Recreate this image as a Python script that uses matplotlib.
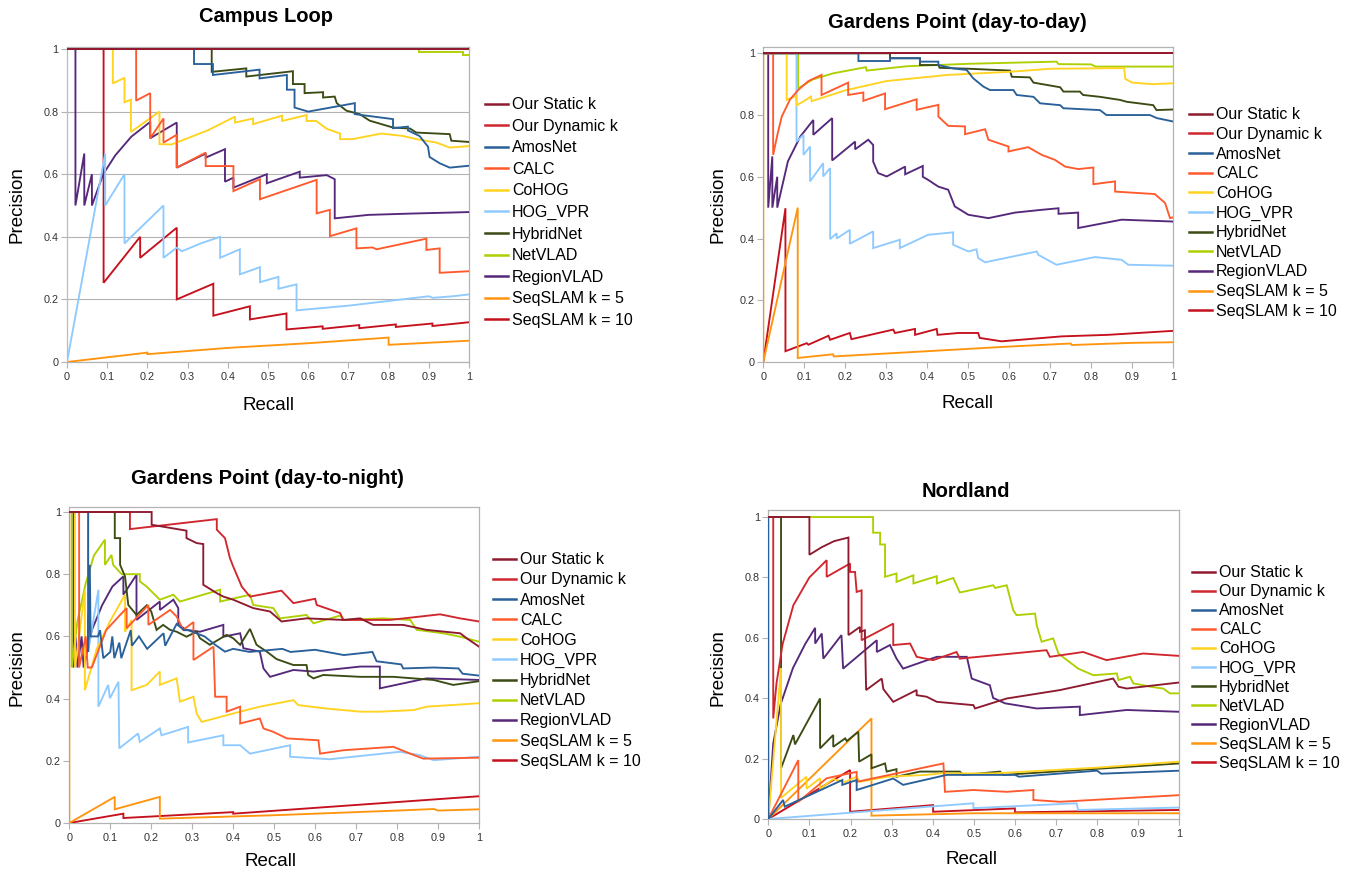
import matplotlib
matplotlib.use("Agg")
import matplotlib.pyplot as plt
from matplotlib.lines import Line2D

plt.rcParams['font.family'] = ['Liberation Sans', 'DejaVu Sans']

# ---------------- data: (recall, precision) vertices ----------------
SERIES = ["Our Static k", "Our Dynamic k", "AmosNet", "CALC", "CoHOG", "HOG_VPR",
          "HybridNet", "NetVLAD", "RegionVLAD", "SeqSLAM k = 5", "SeqSLAM k = 10"]
COLORS = ["#8e1a30", "#d0262e", "#2a6099", "#ff5a2e", "#ffd320", "#8fcaff",
          "#3b4b14", "#aecf00", "#55287a", "#ff950e", "#c5101d"]

TITLES = ["Campus Loop", "Gardens Point (day-to-day)",
          "Gardens Point (day-to-night)", "Nordland"]
X_TICKS = [0, 0.1, 0.2, 0.3, 0.4, 0.5, 0.6, 0.7, 0.8, 0.9, 1]
X_TICK_LABELS = ["0", "0.1", "0.2", "0.3", "0.4", "0.5", "0.6", "0.7", "0.8", "0.9", "1"]
Y_TICKS = [0, 0.2, 0.4, 0.6, 0.8, 1]
Y_TICK_LABELS = ["0", "0.2", "0.4", "0.6", "0.8", "1"]

# --- Campus Loop ---
CL_STATIC = [(0, 1), (1, 1)]
CL_DYNAMIC = [(0, 1), (1, 1)]
CL_AMOSNET = [(0, 1), (0.316, 1), (0.316, 0.952), (0.363, 0.952), (0.363, 0.917), (0.479, 0.934),
              (0.479, 0.906), (0.547, 0.917), (0.547, 0.87), (0.566, 0.87), (0.566, 0.813), (0.6, 0.8),
              (0.716, 0.827), (0.716, 0.792), (0.733, 0.789), (0.811, 0.776), (0.811, 0.747),
              (0.848, 0.752), (0.848, 0.74), (0.877, 0.722), (0.898, 0.688), (0.902, 0.655),
              (0.927, 0.635), (0.952, 0.621), (1, 0.627)]
CL_CALC = [(0, 1), (0.172, 1), (0.172, 0.835), (0.207, 0.859), (0.207, 0.715), (0.24, 0.778),
           (0.24, 0.701), (0.273, 0.726), (0.273, 0.621), (0.345, 0.669), (0.345, 0.626),
           (0.414, 0.626), (0.414, 0.546), (0.48, 0.584), (0.48, 0.52), (0.621, 0.582),
           (0.621, 0.475), (0.654, 0.486), (0.654, 0.402), (0.72, 0.427), (0.72, 0.363),
           (0.76, 0.366), (0.77, 0.36), (0.894, 0.394), (0.894, 0.358), (0.927, 0.363),
           (0.927, 0.285), (1, 0.29)]
CL_COHOG = [(0, 1), (0.114, 1), (0.114, 0.89), (0.143, 0.908), (0.143, 0.83), (0.159, 0.838),
            (0.159, 0.735), (0.23, 0.8), (0.23, 0.696), (0.26, 0.695), (0.35, 0.74), (0.418, 0.784),
            (0.418, 0.765), (0.463, 0.778), (0.463, 0.76), (0.535, 0.787), (0.535, 0.77),
            (0.596, 0.789), (0.596, 0.77), (0.62, 0.77), (0.646, 0.745), (0.679, 0.73),
            (0.679, 0.712), (0.71, 0.712), (0.782, 0.73), (0.836, 0.722), (0.869, 0.712),
            (0.919, 0.701), (0.952, 0.685), (1, 0.69)]
CL_HOG = [(0, 1), (0, 0), (0.095, 0.666), (0.095, 0.5), (0.143, 0.6), (0.143, 0.379), (0.24, 0.5),
          (0.24, 0.333), (0.273, 0.365), (0.286, 0.354), (0.335, 0.38), (0.381, 0.4), (0.381, 0.333),
          (0.43, 0.36), (0.43, 0.28), (0.48, 0.303), (0.48, 0.255), (0.526, 0.272), (0.526, 0.234),
          (0.571, 0.248), (0.571, 0.165), (0.7, 0.18), (0.8, 0.195), (0.9, 0.21), (0.91, 0.205),
          (0.96, 0.21), (1, 0.216)]
CL_HYBRID = [(0, 1), (0.36, 1), (0.36, 0.927), (0.446, 0.938), (0.446, 0.912), (0.562, 0.929),
             (0.562, 0.888), (0.591, 0.888), (0.591, 0.859), (0.637, 0.862), (0.637, 0.845),
             (0.666, 0.848), (0.671, 0.827), (0.695, 0.803), (0.728, 0.792), (0.753, 0.771),
             (0.811, 0.749), (0.853, 0.746), (0.869, 0.733), (0.952, 0.728), (0.956, 0.707),
             (1, 0.703)]
CL_NETVLAD = [(0, 1), (0.875, 1), (0.875, 0.989), (0.986, 0.989), (0.986, 0.981), (1, 0.981)]
CL_REGION = [(0, 1), (0.021, 1), (0.021, 0.5), (0.043, 0.666), (0.043, 0.5), (0.062, 0.6),
             (0.062, 0.5), (0.09, 0.6), (0.12, 0.66), (0.16, 0.72), (0.207, 0.767), (0.207, 0.715),
             (0.273, 0.765), (0.273, 0.621), (0.345, 0.666), (0.345, 0.653), (0.393, 0.68),
             (0.393, 0.576), (0.414, 0.589), (0.414, 0.557), (0.497, 0.6), (0.497, 0.571),
             (0.579, 0.608), (0.579, 0.589), (0.646, 0.597), (0.666, 0.584), (0.666, 0.459),
             (0.75, 0.47), (0.85, 0.474), (1, 0.479)]
CL_SEQ5 = [(0, 0), (0.2, 0.03), (0.2, 0.025), (0.4, 0.045), (0.6, 0.06), (0.8, 0.078),
           (0.8, 0.055), (1, 0.068)]
CL_SEQ10 = [(0, 1), (0.091, 1), (0.091, 0.253), (0.182, 0.4), (0.182, 0.333), (0.273, 0.429),
            (0.273, 0.2), (0.364, 0.25), (0.364, 0.148), (0.455, 0.178), (0.455, 0.136),
            (0.546, 0.155), (0.546, 0.104), (0.636, 0.114), (0.636, 0.106), (0.727, 0.118),
            (0.727, 0.108), (0.818, 0.12), (0.818, 0.112), (0.909, 0.123), (0.909, 0.115),
            (1, 0.127)]

# --- Gardens Point (day-to-day) ---
GD_STATIC = [(0, 1), (1, 1)]
GD_DYNAMIC = [(0, 1), (1, 1)]
GD_AMOSNET = [(0, 1), (0.232, 1), (0.232, 0.975), (0.309, 0.975), (0.309, 0.984), (0.382, 0.984),
              (0.382, 0.973), (0.427, 0.973), (0.427, 0.962), (0.463, 0.951), (0.496, 0.946),
              (0.512, 0.919), (0.537, 0.892), (0.553, 0.881), (0.61, 0.881), (0.618, 0.865),
              (0.659, 0.859), (0.675, 0.838), (0.724, 0.832), (0.732, 0.822), (0.821, 0.816),
              (0.837, 0.8), (0.943, 0.8), (0.96, 0.79), (1, 0.779)]
GD_CALC = [(0, 1), (0.024, 1), (0.024, 0.671), (0.035, 0.74), (0.045, 0.795), (0.065, 0.85),
           (0.085, 0.881), (0.11, 0.91), (0.142, 0.93), (0.142, 0.865), (0.207, 0.905),
           (0.207, 0.865), (0.244, 0.873), (0.244, 0.846), (0.297, 0.87), (0.297, 0.819),
           (0.374, 0.851), (0.374, 0.817), (0.427, 0.833), (0.427, 0.795), (0.451, 0.765),
           (0.492, 0.763), (0.492, 0.738), (0.541, 0.754), (0.549, 0.72), (0.598, 0.698),
           (0.598, 0.682), (0.646, 0.696), (0.679, 0.671), (0.711, 0.655), (0.736, 0.633),
           (0.768, 0.625), (0.805, 0.63), (0.805, 0.576), (0.858, 0.585), (0.858, 0.552),
           (0.955, 0.544), (0.98, 0.515), (0.992, 0.466), (1, 0.469)]
GD_COHOG = [(0, 1), (0.057, 1), (0.057, 0.849), (0.08, 0.862), (0.082, 0.832), (0.105, 0.85),
            (0.116, 0.86), (0.118, 0.845), (0.2, 0.88), (0.3, 0.91), (0.45, 0.93), (0.6, 0.94),
            (0.7, 0.95), (0.88, 0.952), (0.883, 0.917), (0.9, 0.905), (0.95, 0.9), (1, 0.903)]
GD_HOG = [(0, 1), (0.081, 1), (0.081, 0.714), (0.098, 0.736), (0.098, 0.671), (0.114, 0.698),
          (0.114, 0.585), (0.146, 0.644), (0.146, 0.601), (0.163, 0.628), (0.163, 0.398),
          (0.179, 0.417), (0.179, 0.4), (0.211, 0.428), (0.211, 0.383), (0.268, 0.423),
          (0.268, 0.369), (0.333, 0.396), (0.333, 0.369), (0.402, 0.412), (0.463, 0.42),
          (0.463, 0.38), (0.5, 0.358), (0.52, 0.365), (0.524, 0.337), (0.541, 0.323),
          (0.667, 0.358), (0.671, 0.347), (0.715, 0.315), (0.809, 0.34), (0.874, 0.331),
          (0.89, 0.315), (1, 0.312)]
GD_HYBRID = [(0, 1), (0.309, 1), (0.309, 0.984), (0.382, 0.984), (0.382, 0.962), (0.427, 0.962),
             (0.43, 0.953), (0.5, 0.95), (0.602, 0.944), (0.606, 0.924), (0.65, 0.922),
             (0.659, 0.905), (0.724, 0.89), (0.732, 0.876), (0.772, 0.876), (0.78, 0.865),
             (0.821, 0.859), (0.87, 0.849), (0.886, 0.843), (0.951, 0.832), (0.959, 0.816),
             (1, 0.818)]
GD_NETVLAD = [(0, 1), (0.085, 1), (0.085, 0.886), (0.12, 0.915), (0.17, 0.935), (0.25, 0.955),
              (0.252, 0.944), (0.35, 0.958), (0.5, 0.966), (0.715, 0.973), (0.72, 0.965),
              (0.8, 0.964), (0.81, 0.957), (1, 0.957)]
GD_REGION = [(0, 1), (0.012, 1), (0.012, 0.5), (0.022, 0.666), (0.022, 0.5), (0.034, 0.6),
             (0.034, 0.5), (0.06, 0.65), (0.09, 0.73), (0.122, 0.784), (0.122, 0.736),
             (0.168, 0.79), (0.168, 0.653), (0.224, 0.714), (0.224, 0.689), (0.256, 0.72),
             (0.268, 0.703), (0.268, 0.649), (0.28, 0.612), (0.301, 0.601), (0.346, 0.633),
             (0.346, 0.608), (0.389, 0.635), (0.389, 0.6), (0.402, 0.59), (0.427, 0.568),
             (0.451, 0.558), (0.467, 0.504), (0.5, 0.477), (0.549, 0.466), (0.614, 0.484),
             (0.679, 0.493), (0.72, 0.498), (0.72, 0.48), (0.768, 0.484), (0.768, 0.434),
             (0.874, 0.461), (1, 0.455)]
GD_SEQ5 = [(0, 1), (0, 0), (0.084, 0.5), (0.084, 0.013), (0.17, 0.025), (0.172, 0.018),
           (0.4, 0.035), (0.6, 0.05), (0.75, 0.06), (0.752, 0.055), (0.9, 0.062), (1, 0.064)]
GD_SEQ10 = [(0, 0), (0.054, 0.498), (0.054, 0.035), (0.106, 0.061), (0.11, 0.056), (0.159, 0.085),
            (0.163, 0.072), (0.211, 0.094), (0.215, 0.074), (0.317, 0.105), (0.321, 0.094),
            (0.37, 0.107), (0.37, 0.088), (0.423, 0.107), (0.425, 0.088), (0.476, 0.094),
            (0.524, 0.094), (0.528, 0.078), (0.581, 0.067), (0.728, 0.083), (0.841, 0.088),
            (1, 0.101)]

# --- Gardens Point (day-to-night) ---
GN_STATIC = [(0, 1), (0.201, 1), (0.201, 0.959), (0.286, 0.94), (0.286, 0.916), (0.311, 0.9),
             (0.327, 0.897), (0.327, 0.766), (0.36, 0.739), (0.376, 0.728), (0.4, 0.718),
             (0.449, 0.691), (0.49, 0.68), (0.518, 0.648), (0.579, 0.658), (0.669, 0.653),
             (0.71, 0.658), (0.742, 0.637), (0.815, 0.637), (0.872, 0.621), (0.954, 0.61),
             (0.97, 0.594), (1, 0.567)]
GN_DYNAMIC = [(0, 1), (0.148, 1), (0.148, 0.945), (0.36, 0.977), (0.36, 0.943), (0.38, 0.916),
              (0.392, 0.852), (0.4, 0.825), (0.421, 0.76), (0.441, 0.728), (0.518, 0.747),
              (0.547, 0.707), (0.6, 0.721), (0.604, 0.701), (0.661, 0.675), (0.669, 0.653),
              (0.783, 0.653), (0.905, 0.671), (0.954, 0.658), (1, 0.648)]
GN_AMOSNET = [(0, 1), (0.046, 1), (0.046, 0.55), (0.05, 0.83), (0.052, 0.6), (0.07, 0.6),
              (0.075, 0.62), (0.083, 0.53), (0.1, 0.55), (0.105, 0.6), (0.11, 0.53), (0.122, 0.58),
              (0.127, 0.53), (0.15, 0.62), (0.153, 0.57), (0.17, 0.6), (0.19, 0.56), (0.23, 0.61),
              (0.234, 0.57), (0.262, 0.64), (0.28, 0.62), (0.29, 0.62), (0.33, 0.6),
              (0.356, 0.573), (0.38, 0.551), (0.4, 0.56), (0.44, 0.55), (0.52, 0.56),
              (0.54, 0.55), (0.6, 0.557), (0.67, 0.54), (0.74, 0.55), (0.75, 0.52), (0.81, 0.51),
              (0.815, 0.497), (0.89, 0.5), (0.95, 0.497), (0.96, 0.48), (1, 0.474)]
GN_CALC = [(0, 1), (0.024, 1), (0.024, 0.5), (0.04, 0.6), (0.045, 0.5), (0.055, 0.5),
           (0.09, 0.62), (0.124, 0.669), (0.14, 0.691), (0.14, 0.626), (0.193, 0.701),
           (0.193, 0.637), (0.246, 0.685), (0.262, 0.664), (0.278, 0.621), (0.303, 0.646),
           (0.303, 0.524), (0.352, 0.567), (0.356, 0.406), (0.384, 0.406), (0.384, 0.358),
           (0.417, 0.374), (0.417, 0.32), (0.465, 0.336), (0.474, 0.304), (0.498, 0.293),
           (0.531, 0.272), (0.608, 0.266), (0.612, 0.223), (0.669, 0.234), (0.791, 0.245),
           (0.832, 0.223), (0.864, 0.207), (1, 0.21)]
GN_COHOG = [(0, 1), (0.014, 1), (0.014, 0.5), (0.038, 0.747), (0.038, 0.427), (0.067, 0.56),
            (0.1, 0.65), (0.136, 0.734), (0.136, 0.615), (0.152, 0.653), (0.152, 0.427),
            (0.189, 0.444), (0.221, 0.487), (0.221, 0.444), (0.262, 0.465), (0.27, 0.39),
            (0.303, 0.406), (0.311, 0.352), (0.323, 0.325), (0.417, 0.358), (0.465, 0.374),
            (0.547, 0.395), (0.559, 0.379), (0.628, 0.368), (0.71, 0.358), (0.758, 0.358),
            (0.84, 0.363), (0.872, 0.374), (1, 0.385)]
GN_HOG = [(0, 1), (0.046, 1), (0.046, 0.55), (0.071, 0.75), (0.071, 0.374), (0.095, 0.444),
          (0.099, 0.401), (0.12, 0.454), (0.122, 0.24), (0.168, 0.288), (0.172, 0.261),
          (0.221, 0.304), (0.225, 0.282), (0.29, 0.309), (0.29, 0.259), (0.376, 0.282),
          (0.376, 0.25), (0.417, 0.25), (0.441, 0.223), (0.539, 0.25), (0.539, 0.213),
          (0.636, 0.205), (0.807, 0.229), (0.856, 0.218), (0.889, 0.202), (1, 0.213)]
GN_HYBRID = [(0, 1), (0.111, 1), (0.111, 0.916), (0.124, 0.916), (0.124, 0.83), (0.136, 0.793),
             (0.144, 0.701), (0.164, 0.669), (0.189, 0.7), (0.2, 0.68), (0.213, 0.621),
             (0.229, 0.637), (0.246, 0.621), (0.262, 0.615), (0.286, 0.599), (0.311, 0.615),
             (0.319, 0.594), (0.343, 0.573), (0.384, 0.605), (0.4, 0.594), (0.417, 0.573),
             (0.441, 0.624), (0.457, 0.573), (0.482, 0.551), (0.506, 0.527), (0.547, 0.508),
             (0.579, 0.508), (0.583, 0.476), (0.596, 0.465), (0.62, 0.476), (0.71, 0.47),
             (0.791, 0.47), (0.889, 0.46), (0.937, 0.444), (1, 0.456)]
GN_NETVLAD = [(0, 1), (0.006, 1), (0.006, 0.5), (0.02, 0.65), (0.04, 0.77), (0.06, 0.86),
              (0.087, 0.911), (0.087, 0.83), (0.103, 0.862), (0.107, 0.83), (0.128, 0.8),
              (0.172, 0.8), (0.172, 0.777), (0.189, 0.76), (0.205, 0.739), (0.221, 0.718),
              (0.254, 0.734), (0.27, 0.712), (0.368, 0.75), (0.368, 0.712), (0.441, 0.734),
              (0.449, 0.701), (0.498, 0.691), (0.514, 0.658), (0.579, 0.669), (0.596, 0.642),
              (0.661, 0.667), (0.669, 0.653), (0.766, 0.658), (0.832, 0.653), (0.848, 0.621),
              (0.913, 0.61), (0.954, 0.599), (1, 0.583)]
GN_REGION = [(0, 1), (0.01, 1), (0.01, 0.5), (0.015, 0.6), (0.02, 0.5), (0.03, 0.6), (0.035, 0.5),
             (0.055, 0.62), (0.08, 0.7), (0.105, 0.76), (0.132, 0.793), (0.132, 0.734),
             (0.164, 0.798), (0.164, 0.653), (0.221, 0.712), (0.221, 0.685), (0.254, 0.718),
             (0.266, 0.691), (0.266, 0.637), (0.286, 0.621), (0.319, 0.615), (0.376, 0.637),
             (0.376, 0.599), (0.417, 0.61), (0.425, 0.562), (0.465, 0.551), (0.474, 0.497),
             (0.49, 0.47), (0.547, 0.492), (0.596, 0.487), (0.71, 0.503), (0.758, 0.503),
             (0.758, 0.433), (0.872, 0.465), (1, 0.46)]
GN_SEQ5 = [(0, 1), (0, 0), (0.111, 0.084), (0.111, 0.044), (0.221, 0.084), (0.221, 0.014),
           (0.5, 0.025), (0.8, 0.04), (0.89, 0.045), (0.9, 0.04), (1, 0.044)]
GN_SEQ10 = [(0, 0), (0.132, 0.03), (0.132, 0.016), (0.4, 0.035), (0.4, 0.03), (1, 0.086)]

# --- Nordland ---
NL_STATIC = [(0, 1), (0.1, 1), (0.1, 0.875), (0.13, 0.9), (0.16, 0.92), (0.195, 0.932),
             (0.195, 0.609), (0.223, 0.636), (0.223, 0.62), (0.235, 0.625), (0.238, 0.427),
             (0.276, 0.465), (0.28, 0.43), (0.304, 0.388), (0.361, 0.427), (0.361, 0.41),
             (0.385, 0.405), (0.41, 0.388), (0.45, 0.383), (0.499, 0.377), (0.503, 0.366),
             (0.58, 0.399), (0.71, 0.427), (0.839, 0.465), (0.852, 0.438), (0.872, 0.432),
             (1, 0.452)]
NL_DYNAMIC = [(0, 1), (0.012, 1), (0.012, 0.333), (0.02, 0.45), (0.035, 0.58), (0.061, 0.708),
              (0.1, 0.8), (0.142, 0.857), (0.142, 0.802), (0.199, 0.846), (0.199, 0.818),
              (0.211, 0.818), (0.215, 0.752), (0.227, 0.757), (0.227, 0.592), (0.304, 0.647),
              (0.304, 0.576), (0.345, 0.581), (0.361, 0.537), (0.401, 0.526), (0.458, 0.553),
              (0.466, 0.531), (0.677, 0.559), (0.685, 0.537), (0.766, 0.553), (0.823, 0.526),
              (0.912, 0.548), (1, 0.54)]
NL_AMOSNET = [(0, 1), (0, 0), (0.036, 0.063), (0.04, 0.041), (0.18, 0.129), (0.18, 0.113),
              (0.215, 0.129), (0.215, 0.096), (0.304, 0.134), (0.328, 0.113), (0.434, 0.146),
              (0.6, 0.146), (0.61, 0.14), (0.8, 0.16), (0.81, 0.15), (1, 0.16)]
NL_CALC = [(0, 0), (0.073, 0.195), (0.073, 0.057), (0.142, 0.135), (0.215, 0.156),
           (0.215, 0.123), (0.426, 0.184), (0.43, 0.09), (0.499, 0.096), (0.58, 0.09),
           (0.645, 0.096), (0.645, 0.063), (0.71, 0.057), (1, 0.079)]
NL_COHOG = [(0, 0), (0.031, 0.5), (0.031, 0.07), (0.093, 0.14), (0.093, 0.1), (0.126, 0.135),
            (0.126, 0.1), (0.158, 0.132), (0.187, 0.123), (0.215, 0.14), (0.223, 0.123),
            (0.288, 0.14), (0.385, 0.146), (0.418, 0.151), (0.547, 0.151), (0.8, 0.17), (1, 0.19)]
NL_HOG = [(0, 0), (0.499, 0.052), (0.499, 0.036), (0.75, 0.052), (0.754, 0.03), (1, 0.038)]
NL_HYBRID = [(0, 1), (0.031, 1), (0.031, 0.168), (0.061, 0.278), (0.065, 0.247), (0.126, 0.399),
             (0.126, 0.234), (0.158, 0.278), (0.158, 0.239), (0.187, 0.267), (0.191, 0.258),
             (0.219, 0.289), (0.221, 0.19), (0.251, 0.214), (0.251, 0.168), (0.284, 0.184),
             (0.288, 0.157), (0.312, 0.165), (0.312, 0.14), (0.369, 0.157), (0.466, 0.157),
             (0.474, 0.146), (0.564, 0.157), (0.572, 0.146), (1, 0.184)]
NL_NETVLAD = [(0, 1), (0.255, 1), (0.255, 0.948), (0.272, 0.948), (0.272, 0.909), (0.284, 0.909),
              (0.284, 0.802), (0.312, 0.813), (0.312, 0.785), (0.353, 0.807), (0.353, 0.78),
              (0.41, 0.804), (0.41, 0.78), (0.45, 0.798), (0.466, 0.75), (0.547, 0.774),
              (0.552, 0.765), (0.58, 0.774), (0.596, 0.691), (0.604, 0.675), (0.649, 0.68),
              (0.653, 0.642), (0.665, 0.587), (0.693, 0.598), (0.706, 0.548), (0.722, 0.531),
              (0.754, 0.498), (0.791, 0.476), (0.848, 0.482), (0.852, 0.46), (0.88, 0.471),
              (0.888, 0.449), (0.912, 0.443), (0.929, 0.438), (0.961, 0.432), (0.977, 0.416),
              (1, 0.416)]
NL_REGION = [(0, 0), (0.012, 0.25), (0.03, 0.38), (0.06, 0.5), (0.09, 0.58), (0.114, 0.633),
             (0.114, 0.581), (0.13, 0.614), (0.134, 0.531), (0.178, 0.609), (0.182, 0.498),
             (0.264, 0.592), (0.264, 0.553), (0.296, 0.576), (0.312, 0.531), (0.328, 0.498),
             (0.41, 0.537), (0.483, 0.537), (0.495, 0.465), (0.539, 0.443), (0.547, 0.401),
             (0.576, 0.383), (0.653, 0.366), (0.758, 0.372), (0.758, 0.344), (0.872, 0.361),
             (1, 0.355)]
NL_SEQ5 = [(0, 0), (0.251, 0.333), (0.251, 0.011), (0.499, 0.019), (1, 0.019)]
NL_SEQ10 = [(0, 0), (0.199, 0.162), (0.199, 0.024), (0.401, 0.046), (0.401, 0.024),
            (0.6, 0.035), (0.6, 0.022), (1, 0.03)]

PANELS = [
    [CL_STATIC, CL_DYNAMIC, CL_AMOSNET, CL_CALC, CL_COHOG, CL_HOG, CL_HYBRID, CL_NETVLAD,
     CL_REGION, CL_SEQ5, CL_SEQ10],
    [GD_STATIC, GD_DYNAMIC, GD_AMOSNET, GD_CALC, GD_COHOG, GD_HOG, GD_HYBRID, GD_NETVLAD,
     GD_REGION, GD_SEQ5, GD_SEQ10],
    [GN_STATIC, GN_DYNAMIC, GN_AMOSNET, GN_CALC, GN_COHOG, GN_HOG, GN_HYBRID, GN_NETVLAD,
     GN_REGION, GN_SEQ5, GN_SEQ10],
    [NL_STATIC, NL_DYNAMIC, NL_AMOSNET, NL_CALC, NL_COHOG, NL_HOG, NL_HYBRID, NL_NETVLAD,
     NL_REGION, NL_SEQ5, NL_SEQ10],
]

# ---------------- layout (pixels of a 1347x874 canvas) ----------------
W, H = 1347, 874
fig = plt.figure(figsize=(W / 100, H / 100), dpi=100)

# axes: left px, right px, y-px of value 0, y-px of value 1, ylim top
AX_PX = [(67.0, 469.0, 362.0, 49.0, 1.006),
         (763.3, 1173.3, 362.0, 53.3, 1.02),
         (69.3, 479.0, 823.0, 512.0, 1.016),
         (768.3, 1179.3, 819.0, 517.0, 1.023)]
TITLE_PX = [(266, 17), (957, 23), (267, 478), (966, 492)]
YLAB_PX = [(17, 205), (718, 205), (17, 668), (718, 668)]
XLAB_PX = [(268, 406), (967, 403), (270, 862), (972, 860)]
# legend: handle left x, center y, label spacing
LEG_PX = [(485, 212.5, 0.41), (1189, 213, 0.29), (493, 660.5, 0.32), (1192, 668, 0.25)]

GRID_COLOR = "#b3b3b3"

for i, series in enumerate(PANELS):
    l, r, y0, y1, ytop = AX_PX[i]
    per = y0 - y1
    top_px = y0 - per * ytop
    ax = fig.add_axes([l / W, 1 - y0 / H, (r - l) / W, (y0 - top_px) / H])
    n = len(series)
    for k, (name, col, pts) in enumerate(zip(SERIES, COLORS, series)):
        xs = [p[0] for p in pts]
        ys = [p[1] for p in pts]
        ax.plot(xs, ys, color=col, lw=1.35, solid_joinstyle="miter", zorder=3 + (n - k) * 0.1)
    ax.set_xlim(0, 1)
    ax.set_ylim(0, ytop)
    ax.set_xticks(X_TICKS)
    ax.set_xticklabels(X_TICK_LABELS)
    ax.set_yticks(Y_TICKS)
    ax.set_yticklabels(Y_TICK_LABELS)
    ax.tick_params(axis="both", colors=GRID_COLOR, labelcolor="#333333",
                   labelsize=7.8, length=4, width=0.8, direction="out")
    ax.tick_params(axis="x", pad=3)
    ax.tick_params(axis="y", pad=2)
    for s in ax.spines.values():
        s.set_color(GRID_COLOR)
        s.set_linewidth(0.9)
    if i == 0:
        ax.set_axisbelow(True)
        ax.yaxis.grid(True, color=GRID_COLOR, lw=0.8)

    tx, ty = TITLE_PX[i]
    fig.text(tx / W, 1 - ty / H, TITLES[i], ha="center", va="center",
             fontsize=14.5, fontweight="bold")
    yx, yy = YLAB_PX[i]
    fig.text(yx / W, 1 - yy / H, "Precision", ha="center", va="center",
             rotation=90, fontsize=13.5)
    xx, xy = XLAB_PX[i]
    fig.text(xx / W, 1 - xy / H, "Recall", ha="center", va="center", fontsize=13.5)

    lx, ly, lsp = LEG_PX[i]
    handles = [Line2D([], [], color=c, lw=1.8) for c in COLORS]
    fig.legend(handles, SERIES, loc="center left",
               bbox_to_anchor=(lx / W, 1 - ly / H), bbox_transform=fig.transFigure,
               frameon=False, fontsize=11.5, handlelength=1.45, handletextpad=0.25,
               borderpad=0, borderaxespad=0, labelspacing=lsp)

fig.savefig("out.png", dpi=100)
